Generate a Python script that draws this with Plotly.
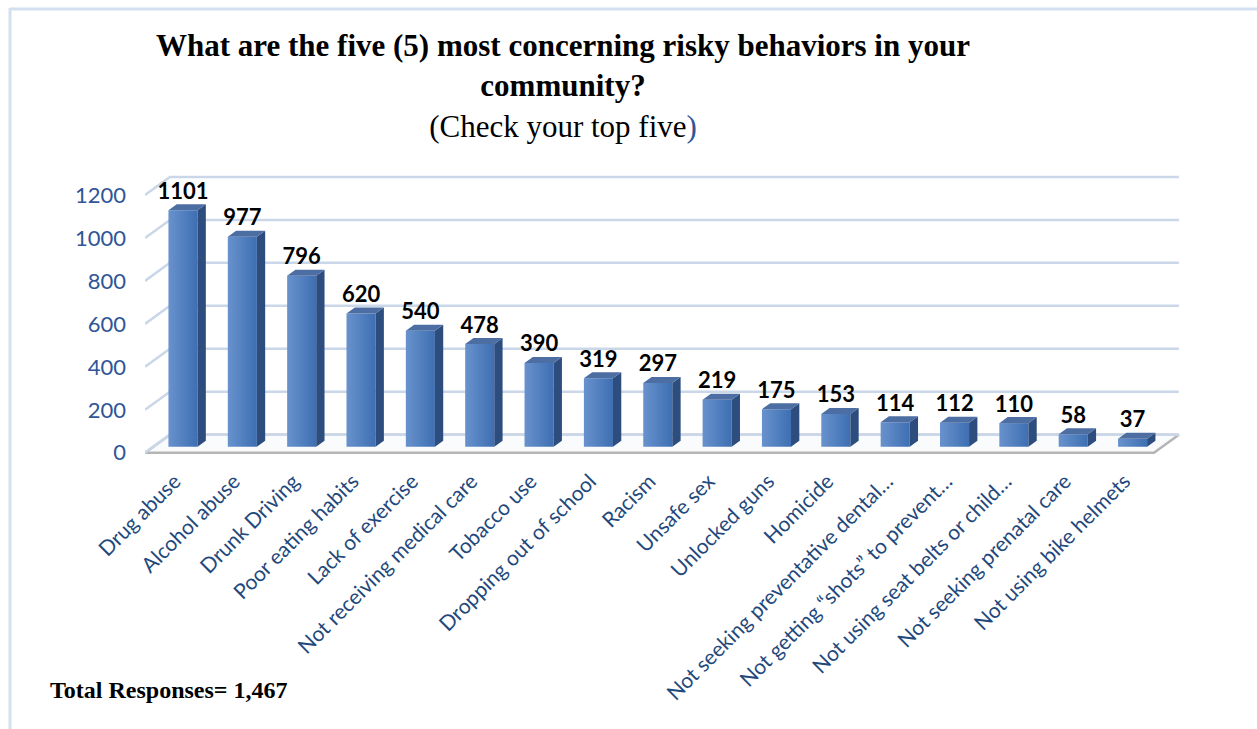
import plotly.graph_objects as go

categories = [
    "Drug abuse", "Alcohol abuse", "Drunk Driving", "Poor eating habits",
    "Lack of exercise", "Not receiving medical care", "Tobacco use",
    "Dropping out of school", "Racism", "Unsafe sex", "Unlocked guns",
    "Homicide", "Not seeking preventative dental…", "Not getting “shots” to prevent…",
    "Not using seat belts or child…", "Not seeking prenatal care", "Not using bike helmets",
]
counts = [1101, 977, 796, 620, 540, 478, 390, 319, 297, 219, 175, 153, 114, 112, 110, 58, 37]
y_ticks = [0, 200, 400, 600, 800, 1000, 1200]

title_text = ("<b>What are the five (5) most concerning risky behaviors in your</b><br>"
              "<b>community?</b><br>"
              "(Check your top five<span style='color:#2F5597'>)</span>")
footer_text = "<b>Total Responses= 1,467</b>"

# fake 3d: floor depth in axis units, bars sit in the middle third
DX, DY = 0.42, 84
BAR_W = 0.49
dx, dy = DX / 3, DY / 3

W, H = 1257, 729
L, R, T, B = 145, 77, 152, 273
px_per_cat = 59.35
x_lo = -0.5
x_hi = x_lo + (W - L - R) / px_per_cat
n = len(categories)
pw, ph = W - L - R, H - T - B

fig = go.Figure()

# floor
fig.add_trace(go.Scatter(
    x=[-0.5, n - 0.5, n - 0.5 + DX, -0.5 + DX, -0.5],
    y=[0, 0, DY, DY, 0],
    mode="lines", fill="toself", fillcolor="#FAFBFC",
    line=dict(color="#B5B5B5", width=2.5), hoverinfo="skip", showlegend=False))

# back wall grid + left wall diagonals
gx, gy = [], []
for t in y_ticks:
    gx += [-0.5, -0.5 + DX, n - 0.5 + DX, None]
    gy += [t, t + DY, t + DY, None]
fig.add_trace(go.Scatter(x=gx, y=gy, mode="lines",
                         line=dict(color="#C9D7E9", width=2.5),
                         hoverinfo="skip", showlegend=False))

side_x, side_y, top_x, top_y = [], [], [], []
for i, v in enumerate(counts):
    x0 = i - BAR_W / 2 + dx
    x1 = i + BAR_W / 2 + dx
    y0 = dy
    fig.add_trace(go.Scatter(
        x=[x0, x1, x1, x0, x0], y=[y0, y0, y0 + v, y0 + v, y0],
        mode="lines", fill="toself", line=dict(width=0, color="#4A7EBF"),
        fillgradient=dict(type="horizontal",
                          colorscale=[[0, "#6892CD"], [1, "#3E6FB2"]]),
        name=categories[i], hovertemplate=f"{categories[i]}: {v}<extra></extra>",
        showlegend=False))
    side_x += [x1, x1 + dx, x1 + dx, x1, x1, None]
    side_y += [y0, y0 + dy, y0 + v + dy, y0 + v, y0, None]
    top_x += [x0, x1, x1 + dx, x0 + dx, x0, None]
    top_y += [y0 + v, y0 + v, y0 + v + dy, y0 + v + dy, y0 + v, None]

fig.add_trace(go.Scatter(x=side_x, y=side_y, mode="lines", fill="toself",
                         fillcolor="#2C4D7E", line=dict(width=0, color="#2C4D7E"),
                         hoverinfo="skip", showlegend=False))
fig.add_trace(go.Scatter(x=top_x, y=top_y, mode="lines", fill="toself",
                         fillcolor="#4D6EA2", line=dict(width=0, color="#4D6EA2"),
                         hoverinfo="skip", showlegend=False))

# value labels
fig.add_trace(go.Scatter(
    x=[i + dx for i in range(n)], y=[v + 2 * dy for v in counts],
    text=[str(v) for v in counts], mode="text", textposition="top center",
    textfont=dict(family="Lato", size=22, color="black", weight="bold"),
    hoverinfo="skip", showlegend=False, cliponaxis=False))

border = dict(color="#D3E0F0", width=3)

fig.update_layout(
    width=W, height=H,
    margin=dict(l=L, r=R, t=T, b=B),
    paper_bgcolor="white", plot_bgcolor="white",
    title=dict(text=title_text, x=563 / W, xanchor="center", y=1 - 56 / H, yanchor="top",
               font=dict(family="Liberation Serif", size=31, color="black")),
    xaxis=dict(range=[x_lo, x_hi], tickvals=list(range(n)), ticktext=categories,
               tickangle=-45, showgrid=False, zeroline=False, showline=False,
               tickfont=dict(family="Lato", size=21, color="#1F497D"),
               ticklabelstandoff=8),
    yaxis=dict(range=[-15, 1400], tickvals=y_ticks, showgrid=False, zeroline=False,
               showline=False, tickfont=dict(family="Lato", size=22, color="#2F5597"),
               ticklabelstandoff=18),
    annotations=[dict(text=footer_text, xref="paper", yref="paper",
                      x=(48 - L) / pw, y=(H - B - 690) / ph,
                      xanchor="left", yanchor="middle", showarrow=False,
                      font=dict(family="Liberation Serif", size=24, color="black"))],
    shapes=[
        dict(type="line", xref="paper", yref="paper",
             x0=(10 - L) / pw, x1=(10 - L) / pw,
             y0=(H - B - 8) / ph, y1=(H - B - H) / ph, line=border),
        dict(type="line", xref="paper", yref="paper",
             x0=(10 - L) / pw, x1=(W - L) / pw,
             y0=(H - B - 9) / ph, y1=(H - B - 9) / ph, line=border),
    ],
)

fig.write_html("out.html", config={"displayModeBar": False},
               post_script="document.body.style.margin='0';")
